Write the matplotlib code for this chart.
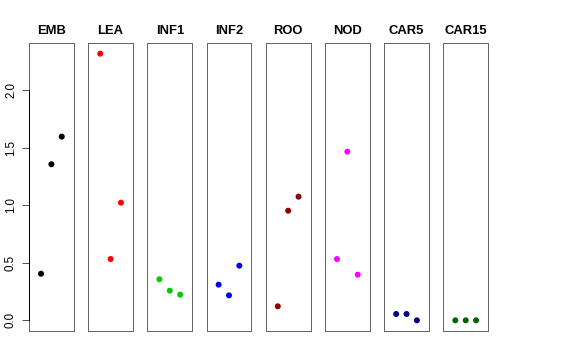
import matplotlib
matplotlib.use("Agg")
import matplotlib.pyplot as plt

plt.rcParams['font.family'] = ['Liberation Sans', 'DejaVu Sans']

tissues = ["EMB", "LEA", "INF1", "INF2", "ROO", "NOD", "CAR5", "CAR15"]
colors = ["#000000", "#FF0000", "#00CD00", "#0000FF", "#8B0000", "#FF00FF", "#00008B", "#006400"]
rep_x = [1, 2, 3]
values = {
    "EMB":   [0.405, 1.357, 1.597],
    "LEA":   [2.318, 0.533, 1.023],
    "INF1":  [0.357, 0.258, 0.223],
    "INF2":  [0.310, 0.217, 0.475],
    "ROO":   [0.122, 0.953, 1.075],
    "NOD":   [0.533, 1.466, 0.397],
    "CAR5":  [0.055, 0.055, 0.000],
    "CAR15": [0.000, 0.000, 0.000],
}
yticks = [0.0, 0.5, 1.0, 1.5, 2.0]
ytick_labels = ["0.0", "0.5", "1.0", "1.5", "2.0"]

W, H = 576, 360
fig = plt.figure(figsize=(W / 72, H / 72), dpi=72)

allv = [v for k in tissues for v in values[k]]
ymin, ymax = min(allv), max(allv)
pad = 0.04 * (ymax - ymin)
ylim = (ymin - pad, ymax + pad)
xlim = (0 - 0.16, 4 + 0.16)

left0 = 29.0
step = 59.19
pw = 44.8
bottom = 360 - 331.0
ph = 331.0 - 43.0

for i, (t, c) in enumerate(zip(tissues, colors)):
    ax = fig.add_axes([(left0 + i * step) / W, bottom / H, pw / W, ph / H])
    ax.scatter(rep_x, values[t], s=36, color=c, edgecolors='none', zorder=3)
    ax.set_xlim(*xlim)
    ax.set_ylim(*ylim)
    ax.set_xticks([])
    for sp in ax.spines.values():
        sp.set_color('#666666')
        sp.set_linewidth(1.0)
    ax.set_title(t, fontsize=13, fontweight='bold', pad=9)
    if i == 0:
        ax.set_yticks(yticks)
        ax.set_yticklabels(ytick_labels, rotation=90, va='center', fontsize=11.5)
        ax.tick_params(axis='y', length=7, width=1, color='#555555', pad=5)
        ax.plot([xlim[0], xlim[0]], [yticks[0], yticks[-1]], color='black',
                lw=1.0, clip_on=False, zorder=5)
    else:
        ax.set_yticks([])

fig.savefig("out.png", dpi=72)
